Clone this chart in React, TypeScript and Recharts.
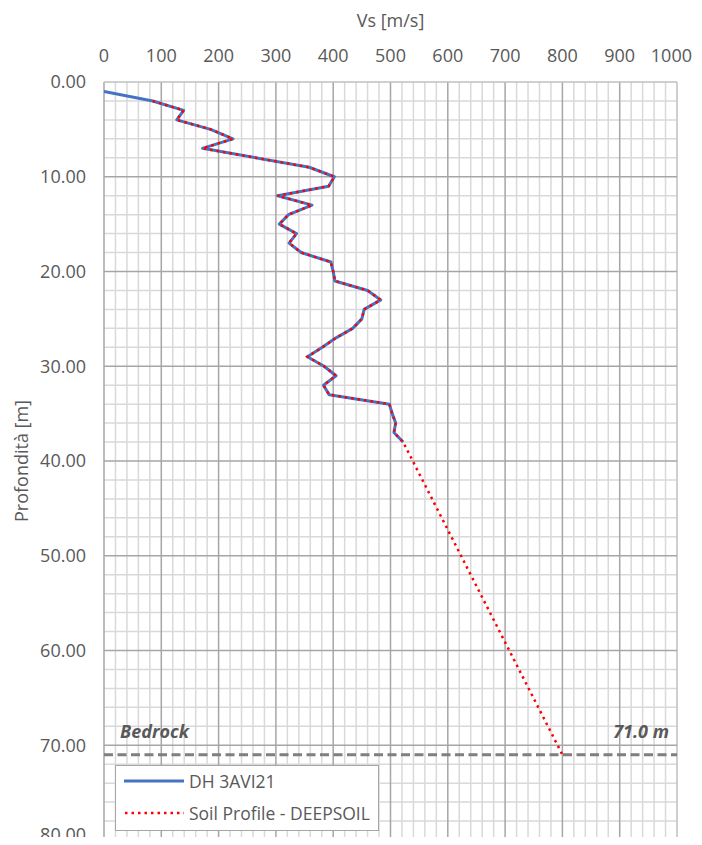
import { ScatterChart, Scatter, XAxis, YAxis, ReferenceLine, Legend } from "recharts";

// Vs profile from the downhole test (DH 3AVI21)
const DEPTH_DH = [1, 2, 3, 4, 5, 6, 7, 9, 10, 11, 12, 13, 14, 15, 16, 17, 18, 19, 20, 21, 22, 23, 24, 25, 26, 27, 28, 29, 30, 31, 32, 33, 34, 35, 36, 37, 38];
const VS_DH = [0, 85, 139, 127, 186, 225, 172, 358, 402, 392, 303, 363, 322, 306, 336, 323, 344, 396, 400, 403, 460, 483, 454, 450, 434, 405, 381, 355, 384, 405, 383, 393, 498, 503, 509, 506, 522];

// Soil profile used in DEEPSOIL (down to bedrock)
const DEPTH_DS = [2, 3, 4, 5, 6, 7, 9, 10, 11, 12, 13, 14, 15, 16, 17, 18, 19, 20, 21, 22, 23, 24, 25, 26, 27, 28, 29, 30, 31, 32, 33, 34, 35, 36, 37, 38, 71];
const VS_DS = [85, 139, 127, 186, 225, 172, 358, 402, 392, 303, 363, 322, 306, 336, 323, 344, 396, 400, 403, 460, 483, 454, 450, 434, 405, 381, 355, 384, 405, 383, 393, 498, 503, 509, 506, 522, 800];

const SERIES_NAMES = ["DH 3AVI21", "Soil Profile - DEEPSOIL"];
const BEDROCK_DEPTH = 71;
const BEDROCK_LABELS = ["Bedrock", "71.0 m"];

const X_TICKS = [0, 100, 200, 300, 400, 500, 600, 700, 800, 900, 1000];
const Y_TICKS = [0, 10, 20, 30, 40, 50, 60, 70, 80];
const X_MINOR = Array.from({ length: 51 }, (_, i) => i * 20).filter((v) => v % 100 !== 0);
const Y_MINOR = Array.from({ length: 41 }, (_, i) => i * 2).filter((v) => v % 10 !== 0);

const dhData = DEPTH_DH.map((d, i) => ({ depth: d, vs: VS_DH[i] }));
const dsData = DEPTH_DS.map((d, i) => ({ depth: d, vs: VS_DS[i] }));

const FONT = "'Open Sans', sans-serif";
const TEXT = "#595959";
const BLUE = "#4472C4";
const RED = "#FF0000";
const MINOR = "#d9d9d9";
const MAJOR = "#a6a6a6";

const noDot = () => <g />;

// top axis tick; the last label is kept inside the page edge
const TopTick = (props: any) => {
  const { x, y, payload } = props;
  const last = payload.value === X_TICKS[X_TICKS.length - 1];
  return (
    <text x={last ? x + 15 : x} y={y} textAnchor={last ? "end" : "middle"} fill={TEXT} fontSize={18} fontFamily={FONT}>
      {payload.value}
    </text>
  );
};

const LegendBox = () => (
  <div
    style={{
      width: 264,
      height: 66,
      boxSizing: "border-box",
      border: "1px solid #a6a6a6",
      background: "#fff",
      position: "relative",
      fontFamily: FONT,
      fontSize: 17.5,
      color: TEXT,
    }}
  >
    {SERIES_NAMES.map((name, i) => (
      <div key={name} style={{ position: "absolute", left: 8, top: i === 0 ? 2 : 34, height: 26, display: "flex", alignItems: "center", whiteSpace: "nowrap" }}>
        <svg width={62} height={6}>
          {i === 0 ? (
            <line x1={0} x2={60} y1={3} y2={3} stroke={BLUE} strokeWidth={3} />
          ) : (
            <line x1={1} x2={60} y1={3} y2={3} stroke={RED} strokeWidth={2.5} strokeDasharray="2.5 4" />
          )}
        </svg>
        <span style={{ marginLeft: 3 }}>{name}</span>
      </div>
    ))}
  </div>
);

const YTitle = (props: any) => {
  const vb = props.viewBox;
  const x = vb.x + 13;
  const y = vb.y + vb.height / 2;
  return (
    <text x={x} y={y} transform={`rotate(-90 ${x} ${y})`} textAnchor="middle" dominantBaseline="central" fill={TEXT} fontSize={18} fontFamily={FONT}>
      Profondità [m]
    </text>
  );
};

const BedrockLabels = (props: any) => {
  const vb = props.viewBox;
  return (
    <g fill={TEXT} fontSize={18} fontFamily={FONT} fontWeight="bold" fontStyle="italic">
      <text x={vb.x + 16} y={vb.y - 17}>{BEDROCK_LABELS[0]}</text>
      <text x={vb.x + vb.width - 8} y={vb.y - 17} textAnchor="end">{BEDROCK_LABELS[1]}</text>
    </g>
  );
};

export default function App() {
  return (
    <div style={{ marginBottom: -8, width: 694, height: 837 }}>
      <style>{`.recharts-wrapper, .recharts-surface { overflow: visible !important; }`}</style>
      <ScatterChart width={694} height={837} margin={{ top: 34, right: 25, bottom: 5, left: 0 }} style={{ fontFamily: FONT }}>
        <XAxis
          type="number"
          dataKey="vs"
          orientation="top"
          domain={[0, 1000]}
          ticks={X_TICKS}
          allowDataOverflow
          height={40}
          axisLine={false}
          tickLine={false}
          tickMargin={14}
          tick={TopTick}
          label={{ value: "Vs [m/s]", position: "top", offset: 15, fill: TEXT, fontSize: 18, fontFamily: FONT }}
        />
        <YAxis
          type="number"
          dataKey="depth"
          reversed
          domain={[0, 80]}
          ticks={Y_TICKS}
          allowDataOverflow
          width={96}
          axisLine={false}
          tickLine={false}
          tickMargin={12}
          tickFormatter={(v: number) => v.toFixed(2)}
          tick={{ fill: TEXT, fontSize: 18, fontFamily: FONT }}
          label={{ content: YTitle }}
        />

        {X_MINOR.map((v) => (
          <ReferenceLine key={`xm${v}`} x={v} stroke={MINOR} strokeWidth={1.5} />
        ))}
        {Y_MINOR.map((v) => (
          <ReferenceLine key={`ym${v}`} y={v} stroke={MINOR} strokeWidth={1.5} />
        ))}
        {X_TICKS.map((v) => (
          <ReferenceLine key={`xM${v}`} x={v} stroke={v === 1000 ? "#bfbfbf" : MAJOR} strokeWidth={1.5} />
        ))}
        {Y_TICKS.map((v) => (
          <ReferenceLine key={`yM${v}`} y={v} stroke={v === 0 ? "#bfbfbf" : MAJOR} strokeWidth={1.5} />
        ))}

        <Scatter
          name={SERIES_NAMES[0]}
          data={dhData}
          fill={BLUE}
          line={{ stroke: BLUE, strokeWidth: 3, strokeLinejoin: "round" }}
          lineType="joint"
          shape={noDot}
          isAnimationActive={false}
        />
        <Scatter
          name={SERIES_NAMES[1]}
          data={dsData}
          fill={RED}
          line={{ stroke: RED, strokeWidth: 2.5, strokeDasharray: "2.5 4" }}
          lineType="joint"
          shape={noDot}
          isAnimationActive={false}
        />

        <ReferenceLine y={BEDROCK_DEPTH} stroke="#7f7f7f" strokeWidth={3} strokeDasharray="9 4.5" label={{ content: BedrockLabels }} />

        <Legend
          layout="vertical"
          align="center"
          verticalAlign="middle"
          wrapperStyle={{ left: 107, top: 757, width: 264, height: 66 }}
          content={<LegendBox />}
        />
      </ScatterChart>
    </div>
  );
}
